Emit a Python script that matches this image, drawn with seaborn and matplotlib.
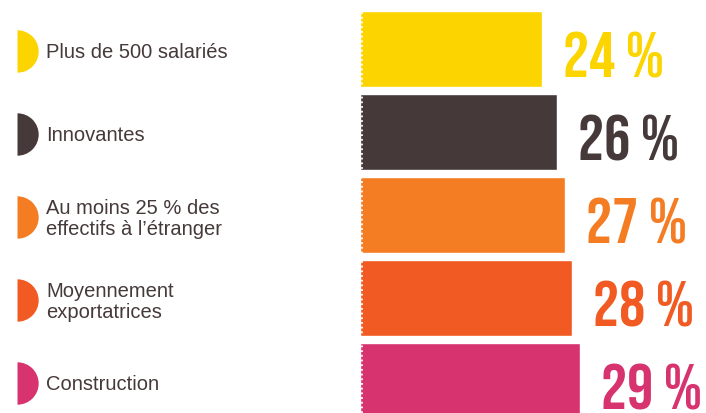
import matplotlib
matplotlib.use("Agg")
import matplotlib.pyplot as plt
from matplotlib import font_manager as fm
import seaborn as sns
import pandas as pd

categories = ["Plus de 500 salariés", "Innovantes", "Au moins 25 % des\neffectifs à l’étranger",
              "Moyennement\nexportatrices", "Construction"]
values = [24, 26, 27, 28, 29]
value_labels = ["24 %", "26 %", "27 %", "28 %", "29 %"]
colors = ["#FCD400", "#463939", "#F47C22", "#F15A22", "#D7336F"]

sns.set_theme(style="white")
plt.rcParams["font.family"] = ["Liberation Sans", "DejaVu Sans"]

# pick a condensed bold face for the big percentages, if one is installed
available = {f.name for f in fm.fontManager.ttflist}
pct_family, pct_size, pct_weight = "DejaVu Sans", 28, "bold"
for fam, size, w in [("Bebas Neue", 47, "normal"), ("League Gothic", 50, "normal"),
                     ("Barlow Condensed", 43, "bold"), ("Liberation Sans Narrow", 38, "bold")]:
    if fam in available:
        pct_family, pct_size, pct_weight = fam, size, w
        break

W, H = 706, 414
fig = plt.figure(figsize=(W / 100, H / 100), dpi=100)
ax = fig.add_axes([0, 0, 1, 1])

df = pd.DataFrame({"cat": categories, "val": values})
sns.barplot(data=df, x="val", y="cat", hue="cat", palette=colors, legend=False,
            orient="h", width=0.92, saturation=1, ax=ax)

px = 7.58  # pixels per percent
ax.set_xlim(-360 / px, (W - 360) / px)
ax.set_ylim(4 + 32 / 83, -50 / 83)
ax.axis("off")

# dotted white line at the base of the bars
ax.axvline(0.22, color="white", lw=1.3, linestyle=(0, (1, 1.6)))

ytr = ax.get_yaxis_transform()
for i, (cat, v, lab, c) in enumerate(zip(categories, values, value_labels, colors)):
    ax.text(v + 21 / px, i + 0.33, lab, color=c, fontsize=pct_size, fontweight=pct_weight,
            family=[pct_family, "DejaVu Sans"], ha="left", va="baseline")
    ax.plot([17 / W], [i + 0.02], transform=ytr, marker="o", markersize=30.5,
            fillstyle="right", markerfacecolor=c, markerfacecoloralt=(0, 0, 0, 0),
            markeredgewidth=0, linestyle="none", clip_on=False)
    ax.text(46 / W, i + 0.035, cat, transform=ytr, color="#463939", fontsize=14.5,
            ha="left", va="center", linespacing=1.1)

fig.savefig("out.png", dpi=100)
